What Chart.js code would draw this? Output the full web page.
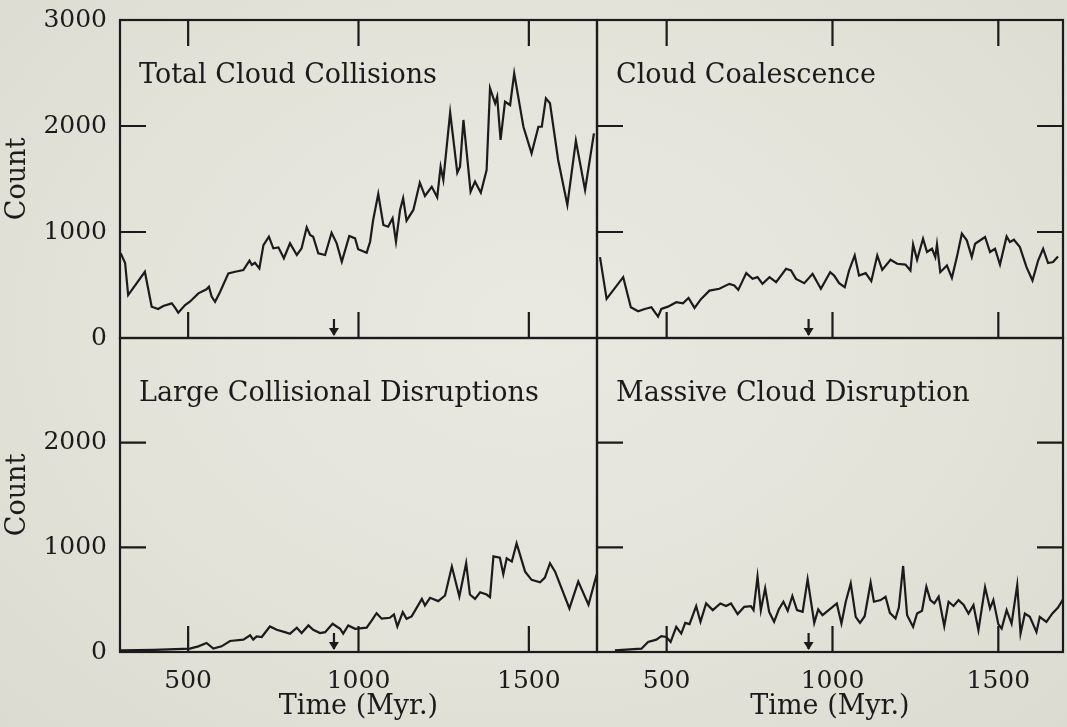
<!DOCTYPE html>
<html>
<head>
<meta charset="utf-8">
<title>Cloud collision counts</title>
<script src="https://cdn.jsdelivr.net/npm/chart.js@4.4.1/dist/chart.umd.min.js"></script>
<style>
  html, body { margin: 0; padding: 0; }
  body {
    width: 1067px; height: 727px; overflow: hidden;
    background: radial-gradient(ellipse at 50% 45%, #e9e9e2 0%, #e3e3da 55%, #dbdbd1 100%);
  }
  canvas { display: block; }
</style>
</head>
<body>
<canvas id="cloudChart" width="1067" height="727"></canvas>
<script>
const INK = '#1b1b1b';

const xTickValues = [500, 1000, 1500];
const yTopTicks = [0, 1000, 2000, 3000];
const yBottomTicks = [0, 1000, 2000];
const yInnerTicks = [1000, 2000];
const MARK_TIME = 928;

// Total Cloud Collisions
const totalTime = [302,315,324,373,393,412,427,452,461,471,491,505,530,554,561,569,579,594,618,638,662,680,687,696,709,721,737,750,765,781,799,819,833,848,858,867,882,902,921,936,951,973,990,999,1024,1034,1043,1058,1073,1087,1100,1110,1122,1131,1141,1161,1180,1195,1215,1231,1241,1249,1269,1290,1298,1308,1329,1342,1359,1376,1386,1401,1407,1417,1430,1445,1457,1484,1508,1528,1538,1550,1562,1586,1613,1638,1665,1691];
const totalCount = [800,707,405,625,295,273,302,327,289,239,311,342,421,459,484,390,342,437,610,625,641,729,689,710,657,877,956,846,855,752,893,783,846,1044,972,956,799,783,993,893,720,962,940,837,805,908,1113,1358,1066,1050,1129,908,1208,1318,1107,1208,1465,1340,1427,1327,1616,1491,2126,1560,1616,2057,1380,1475,1371,1585,2356,2214,2277,1868,2229,2198,2497,1993,1742,1993,1993,2261,2214,1679,1255,1861,1396,1931];

// Cloud Coalescence
const coalTime = [299,319,369,392,414,434,454,474,484,504,529,549,566,584,604,629,659,689,704,716,740,759,774,789,810,830,860,875,890,915,940,965,993,1005,1020,1037,1050,1067,1080,1100,1117,1135,1150,1175,1195,1220,1235,1243,1255,1273,1285,1300,1310,1315,1325,1345,1360,1375,1390,1405,1420,1430,1460,1475,1490,1505,1525,1535,1547,1565,1585,1603,1620,1635,1650,1665,1680];
const coalCount = [763,369,574,290,253,274,290,202,274,296,338,328,378,284,369,447,464,511,495,454,612,558,574,511,574,527,653,637,558,517,605,464,621,589,517,479,637,779,589,612,536,779,643,738,700,693,637,883,738,937,811,842,763,883,621,684,568,763,984,921,763,889,953,811,842,693,958,905,927,858,669,542,731,842,707,716,769];

// Large Collisional Disruptions
const largeTime = [302,400,505,530,554,574,598,623,662,682,691,701,716,740,760,784,799,819,833,853,867,887,902,924,946,955,970,990,1024,1039,1053,1068,1092,1104,1114,1130,1141,1156,1186,1195,1210,1234,1254,1274,1296,1316,1327,1342,1357,1376,1386,1396,1415,1425,1435,1450,1464,1489,1508,1533,1547,1562,1577,1619,1645,1675,1699];
const largeCount = [15,20,32,54,86,32,54,105,118,159,118,149,143,244,213,190,175,232,181,254,213,181,190,270,222,175,254,222,232,302,371,318,327,359,244,381,318,340,508,445,518,486,540,816,530,848,549,508,571,549,524,914,901,743,895,864,1038,768,689,667,711,848,768,416,673,451,740];

// Massive Cloud Disruption
const massTime = [344,424,444,469,484,499,512,529,544,556,569,589,602,619,639,662,679,694,714,734,754,762,774,784,797,809,824,838,852,865,879,893,910,925,945,957,970,995,1013,1027,1040,1055,1070,1083,1097,1115,1125,1145,1160,1173,1190,1200,1213,1225,1243,1255,1270,1283,1295,1307,1320,1337,1350,1365,1380,1395,1410,1425,1440,1460,1475,1485,1500,1510,1525,1540,1557,1567,1580,1595,1615,1625,1645,1663,1680,1697];
const massCount = [15,32,96,118,151,144,96,240,176,278,266,439,288,464,400,464,439,464,362,432,439,400,720,400,608,384,288,406,480,394,535,400,384,694,278,406,352,416,464,272,480,656,336,278,342,662,480,496,528,374,320,425,822,352,240,368,394,624,496,464,528,246,480,439,496,451,368,448,208,618,416,496,266,224,400,272,640,176,368,336,192,336,288,368,425,512];

const panels = [
  { title: 'Total Cloud Collisions', x: 'xL', y: 'yT', row: 0, col: 0, t: totalTime, n: totalCount },
  { title: 'Cloud Coalescence', x: 'xR', y: 'yT', row: 0, col: 1, t: coalTime, n: coalCount },
  { title: 'Large Collisional Disruptions', x: 'xL', y: 'yB', row: 1, col: 0, t: largeTime, n: largeCount },
  { title: 'Massive Cloud Disruption', x: 'xR', y: 'yB', row: 1, col: 1, t: massTime, n: massCount }
];

const tickFont = { family: 'DejaVu Serif', size: 25 };
const labelFont = { family: 'DejaVu Serif', size: 27 };
const TICK_LEN = 26;

function timeAxis(min, max, weight) {
  return {
    type: 'linear', position: 'bottom', stack: 'time', stackWeight: weight,
    min, max, offset: false,
    grid: { display: false, drawTicks: false },
    border: { display: false },
    afterBuildTicks: s => { s.ticks = xTickValues.map(v => ({ value: v })); },
    afterFit: s => { s.height = 75; s.paddingLeft = 0; s.paddingRight = 0; },
    ticks: { font: tickFont, color: INK, padding: 14, maxRotation: 0, autoSkip: false, callback: v => String(v) },
    title: { display: true, text: 'Time (Myr.)', font: labelFont, color: INK, padding: { top: 0, bottom: 4 } }
  };
}

function countAxis(tickValues, weight) {
  return {
    type: 'linear', position: 'left', stack: 'count', stackWeight: weight,
    min: 0, max: 3000,
    grid: { display: false, drawTicks: false },
    border: { display: false },
    afterBuildTicks: s => { s.ticks = tickValues.map(v => ({ value: v })); },
    afterFit: s => { s.width = 120; s.paddingTop = 0; s.paddingBottom = 0; },
    ticks: { font: tickFont, color: INK, padding: 13, autoSkip: false, callback: v => String(v) },
    title: { display: true, text: 'Count', font: labelFont, color: INK, padding: { top: 2, bottom: 0 } }
  };
}

// frames, inward ticks, the time marker arrow and panel names
const panelDecor = {
  id: 'panelDecor',
  afterDatasetsDraw(chart) {
    const ctx = chart.ctx;
    ctx.save();
    ctx.strokeStyle = INK;
    ctx.fillStyle = INK;
    ctx.lineWidth = 2.2;
    panels.forEach(p => {
      const xs = chart.scales[p.x], ys = chart.scales[p.y];
      const l = xs.left, r = xs.right, t = ys.top, b = ys.bottom;
      ctx.strokeRect(l, t, r - l, b - t);
      ctx.beginPath();
      xTickValues.forEach(v => {
        const px = xs.getPixelForValue(v);
        ctx.moveTo(px, b); ctx.lineTo(px, b - TICK_LEN);
        if (p.row === 0) { ctx.moveTo(px, t); ctx.lineTo(px, t + TICK_LEN); }
      });
      yInnerTicks.forEach(v => {
        const py = ys.getPixelForValue(v);
        ctx.moveTo(l, py); ctx.lineTo(l + TICK_LEN, py);
        if (p.col === 1) { ctx.moveTo(r, py); ctx.lineTo(r - TICK_LEN, py); }
      });
      const ax = xs.getPixelForValue(MARK_TIME);
      ctx.moveTo(ax, b - 19); ctx.lineTo(ax, b - 3);
      ctx.stroke();
      ctx.beginPath();
      ctx.moveTo(ax - 5, b - 10); ctx.lineTo(ax + 5, b - 10); ctx.lineTo(ax, b - 2);
      ctx.closePath();
      ctx.fill();

      ctx.font = '27px "DejaVu Serif"';
      ctx.textBaseline = 'alphabetic';
      ctx.textAlign = 'left';
      ctx.fillText(p.title, l + 19, t + 63);
    });
    ctx.restore();
  }
};

new Chart(document.getElementById('cloudChart'), {
  type: 'line',
  data: {
    datasets: panels.map(p => ({
      label: p.title,
      data: p.t.map((v, i) => ({ x: v, y: p.n[i] })),
      xAxisID: p.x,
      yAxisID: p.y,
      borderColor: INK,
      borderWidth: 2.2,
      pointRadius: 0,
      tension: 0,
      fill: false
    }))
  },
  options: {
    responsive: false,
    animation: false,
    devicePixelRatio: 1,
    layout: { padding: { top: 20, right: 4, left: 0, bottom: 0 } },
    plugins: { legend: { display: false }, tooltip: { enabled: false } },
    scales: {
      xL: timeAxis(300, 1700, 477),
      xR: timeAxis(290, 1695, 466),
      yB: countAxis(yBottomTicks, 314),
      yT: countAxis(yTopTicks, 318)
    }
  },
  plugins: [panelDecor]
});
</script>
</body>
</html>
